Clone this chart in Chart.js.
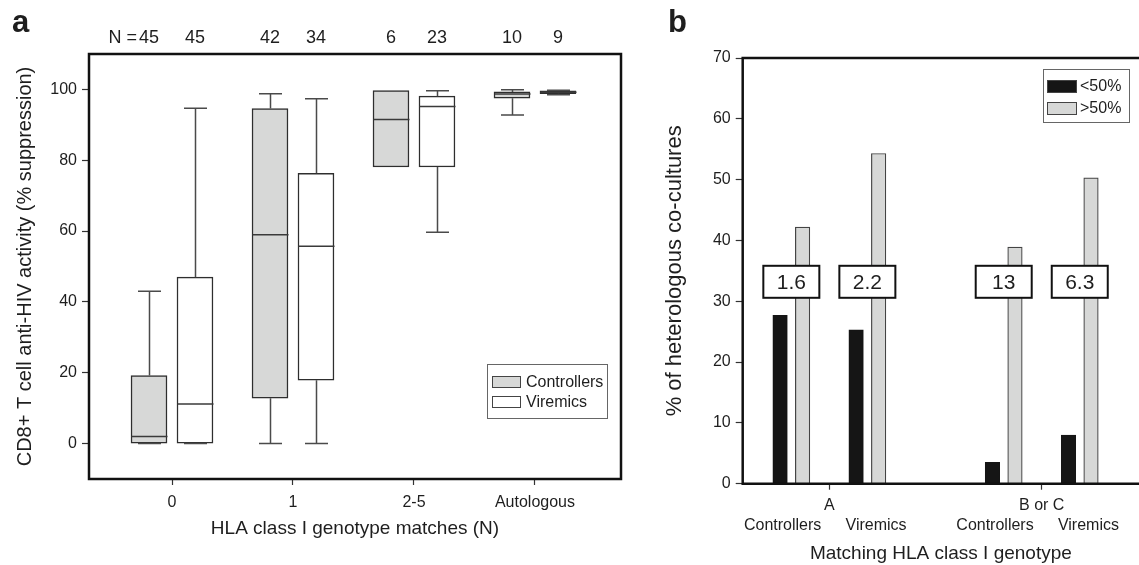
<!DOCTYPE html>
<html><head><meta charset="utf-8">
<script src="https://cdn.jsdelivr.net/npm/chart.js@4.4.1/dist/chart.umd.min.js"></script>
<style>
html,body{margin:0;padding:0;background:#fff;overflow:hidden;width:1139px;height:565px;}
#wrapA{position:absolute;left:0;top:0;width:640px;height:565px;}
#wrapB{position:absolute;left:640px;top:0;width:499px;height:565px;}
canvas{display:block;}
</style></head><body>
<div id="wrapA"><canvas id="cA" width="640" height="565"></canvas></div>
<div id="wrapB"><canvas id="cB" width="499" height="565"></canvas></div>
<script>
// ---------- Panel a data ----------
const groupsA = ['0', '1', '2-5', 'Autologous'];
const seriesA = ['Controllers', 'Viremics'];
const nControllers = [45, 42, 6, 10];
const nViremics = [45, 34, 23, 9];
const ctrlMin = [0, 0, 78.1, 92.8];
const ctrlQ1  = [0, 12.8, 78.1, 97.5];
const ctrlMed = [2.0, 59.0, 91.5, 98.7];
const ctrlQ3  = [19.2, 94.6, 99.7, 99.3];
const ctrlMax = [43.0, 98.8, 99.7, 99.9];
const virMin = [0, 0, 59.7, 98.5];
const virQ1  = [0, 17.9, 78.1, 98.8];
const virMed = [11.2, 55.7, 95.2, 99.2];
const virQ3  = [47.0, 76.3, 98.1, 99.6];
const virMax = [94.7, 97.4, 99.6, 99.8];
const yTicksA = [0, 20, 40, 60, 80, 100];

// ---------- Panel b data ----------
const hlaGroups = ['A', 'B or C'];
const cohorts = ['Controllers', 'Viremics'];
const seriesB = ['<50%', '>50%'];
// order: A-Controllers, A-Viremics, BorC-Controllers, BorC-Viremics
const below50 = [27.7, 25.3, 3.5, 8.0];
const above50 = [42.2, 54.3, 38.9, 50.3];
const ratios = ['1.6', '2.2', '13', '6.3'];
const yTicksB = [0, 10, 20, 30, 40, 50, 60, 70];

// ---------- styling / layout ----------
const FONT = "'Liberation Sans', Arial, Helvetica, sans-serif";
const TXT = '#1e1e1e';
const BOX_OFF = 0.19;      // box offset from group centre (axis units)
const BOX_W = 36;
const CAP_W = 23;
const SUB_OFF = 0.179;     // cohort offset in panel b
const BAR_OFF = 0.053;     // bar offset inside cohort
const RATIO_Y = 33.2;      // vertical position of ratio boxes (axis units)

const f = (size, weight) => ({family: FONT, size: size, weight: weight || 'normal'});

// ================= Panel a =================
const posA = (i, side) => i + side * BOX_OFF;
const boxData = (q1, q3, side) => q1.map((v, i) => ({x: posA(i, side), y: [v, q3[i]]}));
const statsA = [
  {min: ctrlMin, q1: ctrlQ1, med: ctrlMed, q3: ctrlQ3, max: ctrlMax, n: nControllers, side: -1},
  {min: virMin, q1: virQ1, med: virMed, q3: virQ3, max: virMax, n: nViremics, side: 1}
];

const whiskerPlugin = {
  id: 'whiskers',
  afterDatasetsDraw(chart) {
    const {ctx, scales: {x, y}} = chart;
    ctx.save();
    ctx.lineCap = 'butt';
    statsA.forEach(s => {
      groupsA.forEach((g, i) => {
        const cx = Math.round(x.getPixelForValue(posA(i, s.side))) + 0.5;
        const yMin = y.getPixelForValue(s.min[i]), yQ1 = y.getPixelForValue(s.q1[i]);
        const yQ3 = y.getPixelForValue(s.q3[i]), yMax = y.getPixelForValue(s.max[i]);
        const yMed = y.getPixelForValue(s.med[i]);
        ctx.strokeStyle = '#4a4a4a';
        ctx.lineWidth = 1.5;
        ctx.beginPath();
        if (s.max[i] > s.q3[i]) {
          ctx.moveTo(cx, yQ3); ctx.lineTo(cx, yMax);
          ctx.moveTo(cx - CAP_W / 2, yMax); ctx.lineTo(cx + CAP_W / 2, yMax);
        }
        if (s.min[i] < s.q1[i] || s.min[i] === 0) {
          ctx.moveTo(cx, yQ1); ctx.lineTo(cx, yMin);
          ctx.moveTo(cx - CAP_W / 2, yMin); ctx.lineTo(cx + CAP_W / 2, yMin);
        }
        ctx.stroke();
        ctx.strokeStyle = '#3a3a3a';
        ctx.lineWidth = 1.5;
        ctx.beginPath();
        ctx.moveTo(cx - BOX_W / 2, yMed); ctx.lineTo(cx + BOX_W / 2, yMed);
        ctx.stroke();
      });
    });
    ctx.restore();
  }
};

const frameAPlugin = {
  id: 'frameA',
  afterDraw(chart) {
    const {ctx, chartArea: a, scales: {x}} = chart;
    ctx.save();
    ctx.strokeStyle = '#111';
    ctx.lineWidth = 2.5;
    ctx.strokeRect(a.left, a.top, a.right - a.left, a.bottom - a.top);
    // N counts row
    ctx.fillStyle = TXT;
    ctx.font = '18px ' + FONT;
    ctx.textBaseline = 'middle';
    ctx.textAlign = 'center';
    const ty = a.top - 16;
    statsA.forEach(s => {
      s.n.forEach((n, i) => {
        ctx.fillText(String(n), x.getPixelForValue(posA(i, s.side)), ty);
      });
    });
    const firstX = x.getPixelForValue(posA(0, -1));
    const w = ctx.measureText(String(nControllers[0])).width;
    ctx.textAlign = 'right';
    ctx.fillText('N =', firstX - w / 2 - 2, ty);
    // panel letter
    ctx.font = 'bold 31px ' + FONT;
    ctx.textAlign = 'left';
    ctx.textBaseline = 'alphabetic';
    ctx.fillText('a', 12, 32);
    // legend
    const lx = 487, ly = 364, lw = 120, lh = 54;
    ctx.fillStyle = '#fff';
    ctx.fillRect(lx, ly, lw, lh);
    ctx.strokeStyle = '#666';
    ctx.lineWidth = 1;
    ctx.strokeRect(lx + 0.5, ly + 0.5, lw, lh);
    chart.data.datasets.forEach((ds, k) => {
      const sy = ly + 12 + k * 20;
      ctx.fillStyle = ds.backgroundColor;
      ctx.fillRect(lx + 5, sy, 28, 11);
      ctx.strokeStyle = '#444';
      ctx.strokeRect(lx + 5.5, sy + 0.5, 28, 11);
      ctx.fillStyle = TXT;
      ctx.font = '16px ' + FONT;
      ctx.textBaseline = 'middle';
      ctx.fillText(ds.label, lx + 39, sy + 6.5);
    });
    ctx.restore();
  }
};

new Chart(document.getElementById('cA'), {
  type: 'bar',
  data: {
    datasets: [
      {label: seriesA[0], data: boxData(ctrlQ1, ctrlQ3, -1), backgroundColor: '#d7d8d7',
       borderColor: '#2e2e2e', borderWidth: 1.5, borderSkipped: false, grouped: false, barThickness: BOX_W},
      {label: seriesA[1], data: boxData(virQ1, virQ3, 1), backgroundColor: '#ffffff',
       borderColor: '#2e2e2e', borderWidth: 1.5, borderSkipped: false, grouped: false, barThickness: BOX_W}
    ]
  },
  options: {
    responsive: false, animation: false, devicePixelRatio: 1,
    layout: {padding: {top: 54, right: 19, left: 0, bottom: 0}},
    plugins: {legend: {display: false}, tooltip: {enabled: false}},
    scales: {
      x: {
        type: 'linear', min: -0.686, max: 3.711, offset: false,
        afterBuildTicks: s => { s.ticks = groupsA.map((g, i) => ({value: i})); },
        ticks: {callback: v => groupsA[v], font: f(16), color: TXT, padding: 8, autoSkip: false, maxRotation: 0},
        grid: {offset: false, drawOnChartArea: false, drawTicks: true, tickLength: 6, tickColor: '#333', tickWidth: 1.2},
        border: {display: false},
        title: {display: true, text: 'HLA class I genotype matches (N)', font: f(19), color: TXT, padding: {top: 0, bottom: 25}},
        afterFit: s => { s.height = 86; }
      },
      y: {
        type: 'linear', min: -10, max: 110,
        afterBuildTicks: s => { s.ticks = yTicksA.map(v => ({value: v})); },
        ticks: {font: f(16), color: TXT, padding: 5},
        grid: {drawOnChartArea: false, drawTicks: true, tickLength: 7, tickColor: '#333', tickWidth: 1.2},
        border: {display: false},
        title: {display: true, text: 'CD8+ T cell anti-HIV activity (% suppression)', font: f(20), color: TXT, padding: {top: 13, bottom: 0}},
        afterFit: s => { s.width = 89; }
      }
    }
  },
  plugins: [whiskerPlugin, frameAPlugin]
});

// ================= Panel b =================
const cohortPos = k => Math.floor(k / 2) + (k % 2 ? 1 : -1) * SUB_OFF;
const barData = (vals, side) => vals.map((v, k) => ({x: cohortPos(k) + side * BAR_OFF, y: v}));

const frameBPlugin = {
  id: 'frameB',
  afterDraw(chart) {
    const {ctx, chartArea: a, scales: {x, y}} = chart;
    ctx.save();
    ctx.strokeStyle = '#111';
    ctx.lineWidth = 2.5;
    ctx.beginPath();
    ctx.moveTo(a.right, a.top); ctx.lineTo(a.left, a.top); ctx.lineTo(a.left, a.bottom); ctx.lineTo(a.right, a.bottom);
    ctx.stroke();
    // ratio boxes
    ctx.font = '21px ' + FONT;
    ctx.textAlign = 'center';
    ctx.textBaseline = 'middle';
    ratios.forEach((r, k) => {
      const cx = x.getPixelForValue(cohortPos(k));
      const cy = y.getPixelForValue(RATIO_Y);
      ctx.fillStyle = '#fff';
      ctx.fillRect(cx - 28, cy - 16, 56, 32);
      ctx.strokeStyle = '#111';
      ctx.lineWidth = 2;
      ctx.strokeRect(cx - 28, cy - 16, 56, 32);
      ctx.fillStyle = TXT;
      ctx.fillText(r, cx, cy + 1);
    });
    // cohort sub-labels
    ctx.font = '16px ' + FONT;
    ratios.forEach((r, k) => {
      const off = (k % 2 ? 0.22 : -0.22);
      ctx.fillText(cohorts[k % 2], x.getPixelForValue(Math.floor(k / 2) + off), a.bottom + 42);
    });
    // panel letter
    ctx.font = 'bold 31px ' + FONT;
    ctx.textAlign = 'left';
    ctx.textBaseline = 'alphabetic';
    ctx.fillText('b', 28, 32);
    // legend
    const lx = 403, ly = 69, lw = 86, lh = 53;
    ctx.fillStyle = '#fff';
    ctx.fillRect(lx, ly, lw, lh);
    ctx.strokeStyle = '#666';
    ctx.lineWidth = 1;
    ctx.strokeRect(lx + 0.5, ly + 0.5, lw, lh);
    chart.data.datasets.forEach((ds, k) => {
      const sy = ly + 11 + k * 22;
      ctx.fillStyle = ds.backgroundColor;
      ctx.fillRect(lx + 4, sy, 29, 12);
      ctx.strokeStyle = '#444';
      ctx.strokeRect(lx + 4.5, sy + 0.5, 29, 12);
      ctx.fillStyle = TXT;
      ctx.font = '16px ' + FONT;
      ctx.textBaseline = 'middle';
      ctx.textAlign = 'left';
      ctx.fillText(ds.label, lx + 37, sy + 7);
    });
    ctx.restore();
  }
};

new Chart(document.getElementById('cB'), {
  type: 'bar',
  data: {
    datasets: [
      {label: seriesB[0], data: barData(below50, -1), backgroundColor: '#151515', borderColor: '#151515',
       borderWidth: 1, grouped: false, barThickness: 14.5},
      {label: seriesB[1], data: barData(above50, 1), backgroundColor: '#d7d8d7', borderColor: '#444',
       borderWidth: 1.2, borderSkipped: 'bottom', grouped: false, barThickness: 14.5}
    ]
  },
  options: {
    responsive: false, animation: false, devicePixelRatio: 1,
    layout: {padding: {top: 58, right: 0, left: 0, bottom: 0}},
    plugins: {legend: {display: false}, tooltip: {enabled: false}},
    scales: {
      x: {
        type: 'linear', min: -0.408, max: 1.458, offset: false,
        afterBuildTicks: s => { s.ticks = hlaGroups.map((g, i) => ({value: i})); },
        ticks: {callback: v => hlaGroups[v], font: f(16), color: TXT, padding: 6, autoSkip: false, maxRotation: 0},
        grid: {offset: false, drawOnChartArea: false, drawTicks: true, tickLength: 6, tickColor: '#333', tickWidth: 1.2},
        border: {display: false},
        title: {display: true, text: 'Matching HLA class I genotype', font: f(19), color: TXT, padding: {top: 0, bottom: 0}},
        afterFit: s => { s.height = 81.3; }
      },
      y: {
        type: 'linear', min: 0, max: 70,
        afterBuildTicks: s => { s.ticks = yTicksB.map(v => ({value: v})); },
        ticks: {font: f(16), color: TXT, padding: 5},
        grid: {drawOnChartArea: false, drawTicks: true, tickLength: 7, tickColor: '#333', tickWidth: 1.2},
        border: {display: false},
        title: {display: true, text: '% of heterologous co-cultures', font: f(22), color: TXT, padding: {top: 22, bottom: 0}},
        afterFit: s => { s.width = 102.7; }
      }
    }
  },
  plugins: [frameBPlugin]
});
</script>
</body></html>
